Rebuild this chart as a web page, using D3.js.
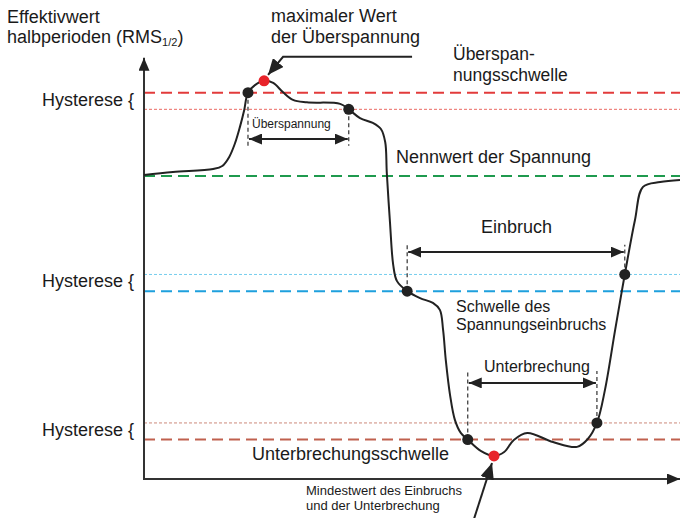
<!DOCTYPE html>
<html>
<head>
<meta charset="utf-8">
<script src="https://cdnjs.cloudflare.com/ajax/libs/d3/7.8.5/d3.min.js"></script>
<style>
	html, body { margin: 0; padding: 0; background: #fff; }
	svg { display: block; font-family: "Liberation Sans", Arial, sans-serif; }
</style>
</head>
<body>
<div id="chart"></div>
<script>
"use strict";

// == DATA ==
// half-period RMS curve: time (% of window) / value (nominal = 100)
var timeVals = [0, 5.4, 12.9, 14.6, 15.9, 17.0, 17.9, 18.7, 19.4, 20.7, 22.4, 24.1, 25.9,
	27.8, 30.4, 36.6, 38.2, 40.3, 42.7, 44.2, 45.0, 45.3, 45.9, 46.5, 47.2, 49.1,
	51.5, 53.9, 55.2, 55.8, 56.3, 57.1, 58.0, 59.1, 60.4, 62.9, 65.3, 67.2, 69.0,
	71.5, 76.3, 80.8, 82.8, 84.5, 86.0, 87.9, 89.7, 91.6, 93.1, 96.3, 100];
var rmsVals = [100.3, 101.3, 102.3, 103.3, 106.3, 110.9, 116.2, 121.8, 127.5, 130.0, 131.4, 130.7, 127.7,
	125.1, 124.3, 123.8, 122, 119.1, 117.5, 115.5, 111.2, 101.0, 84.5, 70.6, 65.3, 62,
	59.7, 58.1, 55.8, 49.2, 39.3, 27.7, 19.5, 15.2, 13, 9.2, 7.6, 8.9, 12.9,
	15.2, 12.2, 10.6, 13.2, 18.5, 29.4, 49.2, 67.5, 85.5, 96.4, 98.0, 98.7];

// threshold levels, top to bottom
var levelNames = ["swell", "swellHyst", "nominal", "dipHyst", "dip", "intHyst", "int"];
var levelVals = [127.5, 122, 100, 67.5, 62, 18.5, 13];

// where the curve crosses the thresholds (black dots)
var eventT = [19.4, 38.2, 49.1, 89.7, 60.4, 84.5];
var eventV = [127.5, 122, 62, 67.5, 13, 18.5];

// max of the swell / min of the dip (red dots)
var extremeT = [22.4, 65.3];
var extremeV = [131.4, 7.6];

// event durations
var spanNames = ["Überspannung", "Einbruch", "Unterbrechung"];
var spanStart = [19.4, 49.1, 60.4];
var spanEnd = [38.2, 89.7, 84.5];

// == BOILERPLATE ==
var width = 680, height = 518;

var svg = d3.select("#chart")
	.append("svg")
	.attr("width", width)
	.attr("height", height);

var x = d3.scaleLinear().domain([0, 100]).range([144, 680]);
var y = d3.scaleLinear().domain([0, 139]).range([479, 57.8]);

var ink = "#222";

// arrow heads
var defs = svg.append("defs");
function head(id, len, wid) {
	defs.append("marker")
		.attr("id", id)
		.attr("markerUnits", "userSpaceOnUse")
		.attr("viewBox", "0 0 " + len + " " + wid)
		.attr("refX", len)
		.attr("refY", wid / 2)
		.attr("markerWidth", len)
		.attr("markerHeight", wid)
		.attr("orient", "auto-start-reverse")
		.append("path")
		.attr("d", "M0,0L" + len + "," + (wid / 2) + "L0," + wid + "Z")
		.attr("fill", ink);
}
head("head", 13, 11);
head("bighead", 16, 14);

// threshold lines (style by index, same order as levelNames)
var levelColor = ["#e23b3b", "#ea6a64", "#1f9a4e", "#74cdee", "#1ea0dd", "#cc8a7c", "#c0604e"];
var levelThin = [false, true, false, true, false, true, false];

svg.selectAll("line.level")
	.data(levelVals)
	.enter().append("line")
	.attr("class", "level")
	.attr("x1", x(0))
	.attr("x2", x(100))
	.attr("y1", (d) => y(d))
	.attr("y2", (d) => y(d))
	.attr("stroke", (d, i) => levelColor[i])
	.attr("stroke-width", (d, i) => levelThin[i] ? 1 : 2)
	.attr("stroke-dasharray", (d, i) => levelThin[i] ? "3,2" : "11,6");

// axes
svg.append("line")
	.attr("x1", x(0)).attr("x2", x(0))
	.attr("y1", y(0) + 1).attr("y2", y(139))
	.attr("stroke", "#333").attr("stroke-width", 2)
	.attr("marker-end", "url(#head)");
svg.append("line")
	.attr("x1", x(0) - 1).attr("x2", x(100))
	.attr("y1", y(0)).attr("y2", y(0))
	.attr("stroke", "#333").attr("stroke-width", 2)
	.attr("marker-end", "url(#head)");

// the RMS curve
var pts = timeVals.map(function (t, i) { return [t, rmsVals[i]]; });
var line = d3.line()
	.x((d) => x(d[0]))
	.y((d) => y(d[1]))
	.curve(d3.curveCatmullRom.alpha(0.5));

svg.append("path")
	.datum(pts)
	.attr("d", line)
	.attr("fill", "none")
	.attr("stroke", ink)
	.attr("stroke-width", 2);

// duration arrows: level of the arrow + where the dashed ticks end
var spanLevel = [112.2, 74.9, 31.7];
var tickEnd = [110, 77.3, 35.6];

spanNames.forEach(function (name, i) {
	var a = spanStart[i], b = spanEnd[i];
	[a, b].forEach(function (t) {
		var k = eventT.indexOf(t);
		svg.append("line")
			.attr("x1", x(t)).attr("x2", x(t))
			.attr("y1", y(eventV[k])).attr("y2", y(tickEnd[i]))
			.attr("stroke", "#333").attr("stroke-width", 1.2)
			.attr("stroke-dasharray", "4,3");
	});
	svg.append("line")
		.attr("x1", x(a) + 1).attr("x2", x(b) - 1)
		.attr("y1", y(spanLevel[i])).attr("y2", y(spanLevel[i]))
		.attr("stroke", ink).attr("stroke-width", 2)
		.attr("marker-start", "url(#head)")
		.attr("marker-end", "url(#head)");
});

// dots
svg.selectAll("circle.ev")
	.data(eventT)
	.enter().append("circle")
	.attr("class", "ev")
	.attr("cx", (d) => x(d))
	.attr("cy", (d, i) => y(eventV[i]))
	.attr("r", 5.5)
	.attr("fill", ink);

svg.selectAll("circle.ext")
	.data(extremeT)
	.enter().append("circle")
	.attr("class", "ext")
	.attr("cx", (d) => x(d))
	.attr("cy", (d, i) => y(extremeV[i]))
	.attr("r", 5.5)
	.attr("fill", "#e8232a");

// pointer arrows to the extremes
var mx = x(extremeT[0]), my = y(extremeV[0]);
svg.append("polyline")
	.attr("points", [[mx + 148, my - 24], [mx + 19, my - 24], [mx + 4, my - 6]].join(" "))
	.attr("fill", "none").attr("stroke", ink).attr("stroke-width", 2)
	.attr("marker-end", "url(#bighead)");

var nx = x(extremeT[1]), ny = y(extremeV[1]);
svg.append("line")
	.attr("x1", nx - 21).attr("y1", ny + 66)
	.attr("x2", nx - 2).attr("y2", ny + 7)
	.attr("stroke", ink).attr("stroke-width", 2)
	.attr("marker-end", "url(#bighead)");

// == TEXT ==
function label(px, py, str, size) {
	return svg.append("text")
		.attr("x", px).attr("y", py)
		.attr("font-size", size)
		.attr("fill", "#1a1a1a")
		.text(str);
}

label(7, 23, "Effektivwert", 18);
var yl = label(7, 43, "halbperioden (RMS", 18);
yl.append("tspan").attr("font-size", 11).attr("dy", 3).text("1/2");
yl.append("tspan").attr("dy", -3).text(")");

label(271, 22, "maximaler Wert", 18);
label(271, 43, "der Überspannung", 18);
label(453, 60, "Überspan-", 17.5);
label(453, 81, "nungsschwelle", 17.5);
label(396, 163, "Nennwert der Spannung", 18);
label(481, 233, "Einbruch", 18);
label(456, 312, "Schwelle des", 16);
label(456, 330, "Spannungseinbruchs", 16);
label(484, 372, "Unterbrechung", 16);
label(252, 460, "Unterbrechungsschwelle", 18);
label(252, 128, "Überspannung", 12);
label(306, 495, "Mindestwert des Einbruchs", 13);
label(306, 510, "und der Unterbrechung", 13);

// hysteresis brackets next to the upper/lower pairs of lines
[106, 287, 436].forEach(function (py) {
	label(42, py, "Hysterese {", 18);
});
</script>
</body>
</html>
